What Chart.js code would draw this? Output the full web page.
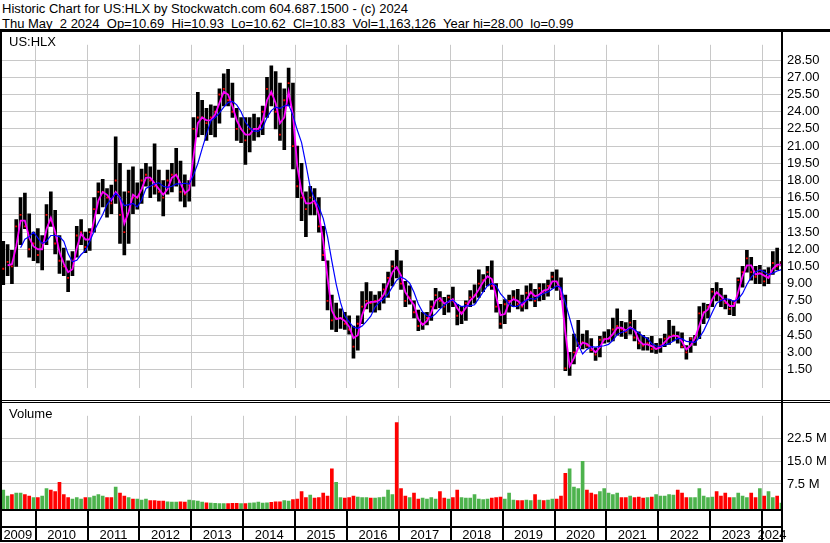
<!DOCTYPE html>
<html>
<head>
<meta charset="utf-8">
<script src="https://cdn.jsdelivr.net/npm/chart.js@4.4.1/dist/chart.umd.min.js"></script>
<style>
  html, body { margin: 0; padding: 0; background: #fff; }
  body { width: 830px; height: 543px; position: relative; overflow: hidden;
         font-family: "Liberation Sans", Arial, sans-serif; }
  .txt { position: absolute; font-size: 13px; line-height: 15px; color: #000; white-space: pre; }
  .ln { position: absolute; background: #000; }
  canvas { position: absolute; left: 0; }
</style>
</head>
<body>
<div class="txt" style="left:2px;top:1px">Historic Chart for US:HLX by Stockwatch.com 604.687.1500 - (c) 2024
Thu May  2 2024  Op=10.69  Hi=10.93  Lo=10.62  Cl=10.83  Vol=1,163,126  Year hi=28.00  lo=0.99</div>

<canvas id="price" width="830" height="369" style="top:32px"></canvas>
<canvas id="volume" width="830" height="140" style="top:403px"></canvas>

<div class="txt" style="left:9px;top:34px">US:HLX</div>
<div class="txt" style="left:9px;top:406px">Volume</div>

<!-- frame lines -->
<div class="ln" style="left:0;top:29px;width:830px;height:3px"></div>
<div class="ln" style="left:0;top:29px;width:2px;height:513px"></div>
<div class="ln" style="left:781px;top:29px;width:2px;height:513px"></div>
<div class="ln" style="left:0;top:400px;width:830px;height:1px"></div>
<div class="ln" style="left:0;top:402px;width:830px;height:1px"></div>
<div class="ln" style="left:0;top:509px;width:783px;height:2px"></div>
<div class="ln" style="left:0;top:526px;width:783px;height:2px"></div>
<div class="ln" style="left:0;top:540px;width:783px;height:2px"></div>

<script>
// monthly bars, first one is May 2009, last one is May 2024 (to May 2)
const startYear = 2009;
const startMonth = 5;

const highs = [
  12.7, 12.4, 11.9, 14.6, 16.5, 16.9, 15.1, 13.5,
  13.8, 13.2, 15.9, 17.0, 15.4, 13.2, 12.1, 11.0, 11.8, 14.0, 14.6, 13.5,
  13.8, 16.5, 17.8, 18.1, 17.3, 17.6, 21.8, 19.5, 17.0, 18.9, 19.2, 17.8,
  19.0, 19.5, 19.2, 21.2, 18.9, 18.0, 18.9, 19.5, 20.8, 19.7, 18.5, 18.0,
  23.5, 25.7, 25.0, 24.3, 24.6, 24.5, 26.0, 27.3, 27.7, 26.5, 24.3, 23.5,
  23.5, 23.5, 23.8, 23.5, 24.5, 27.0, 28.0, 27.5, 26.5, 26.0, 27.8, 26.5,
  21.0, 19.5, 17.0, 17.5, 17.3, 16.5, 14.0, 11.0, 8.0, 7.3, 6.8, 6.5,
  6.2, 5.3, 6.2, 8.3, 9.1, 8.3, 8.0, 8.3, 9.0, 10.0, 11.0, 11.9,
  11.0, 9.2, 8.8, 7.5, 6.7, 6.5, 6.5, 7.5, 8.6, 8.3, 7.8, 8.0,
  8.7, 7.2, 7.0, 7.5, 8.4, 8.9, 10.2, 9.8, 10.5, 11.0, 9.0, 7.2,
  7.6, 8.0, 8.4, 8.5, 8.0, 8.8, 9.0, 8.5, 9.0, 9.0, 9.3, 10.0,
  10.2, 9.5, 8.0, 3.0, 4.6, 5.8, 4.6, 4.9, 4.2, 3.4, 4.4, 4.8,
  5.0, 6.0, 6.8, 5.7, 5.6, 6.7, 5.8, 4.8, 4.5, 4.3, 4.4, 3.8,
  4.2, 4.6, 5.8, 5.3, 4.8, 4.7, 3.6, 4.3, 4.5, 7.0, 7.3, 7.2,
  8.6, 9.1, 8.6, 8.0, 7.6, 7.5, 9.5, 10.5, 11.9, 11.3, 10.5, 10.6,
  10.2, 10.4, 11.8, 12.1, 10.93
];

const lows = [
  8.9, 9.7, 9.0, 10.5, 12.4, 13.8, 11.3, 11.0,
  10.8, 10.2, 12.4, 14.0, 11.6, 9.9, 9.7, 8.3, 9.7, 11.3, 12.4, 11.7,
  11.9, 13.5, 15.1, 15.7, 14.8, 15.1, 16.0, 12.5, 11.5, 12.5, 15.1, 15.5,
  16.0, 17.5, 16.5, 16.8, 16.2, 14.9, 16.8, 17.0, 17.5, 16.2, 15.7, 16.2,
  17.5, 21.8, 22.0, 21.5, 22.0, 21.8, 23.0, 24.5, 24.5, 23.5, 21.5, 21.3,
  19.4, 20.5, 21.5, 21.8, 22.0, 23.5, 24.5, 22.5, 21.5, 20.7, 24.5, 19.0,
  16.5, 14.5, 13.1, 15.0, 15.0, 13.5, 11.0, 6.7, 5.0, 4.8, 5.1, 5.0,
  4.6, 2.5, 3.2, 5.5, 6.8, 6.5, 6.5, 6.7, 7.3, 7.8, 8.8, 9.5,
  8.5, 7.0, 7.2, 6.0, 4.9, 5.0, 5.4, 5.8, 6.8, 6.9, 6.3, 6.5,
  7.0, 5.4, 5.5, 5.8, 7.0, 7.3, 7.8, 8.3, 8.8, 8.5, 6.5, 5.1,
  5.5, 6.5, 7.0, 6.8, 6.6, 6.8, 7.5, 7.0, 7.5, 7.6, 7.9, 8.6,
  8.4, 7.6, 1.4, 0.99, 2.0, 3.5, 3.3, 3.4, 3.0, 2.3, 2.6, 3.8,
  3.9, 4.0, 4.5, 4.4, 4.2, 4.6, 4.0, 3.3, 3.2, 3.2, 3.0, 2.9,
  3.0, 3.5, 3.7, 4.0, 3.8, 3.4, 2.4, 3.0, 3.6, 4.2, 5.5, 6.0,
  7.0, 7.5, 7.0, 6.8, 6.3, 6.2, 7.3, 8.7, 10.0, 9.3, 9.0, 9.0,
  8.8, 9.0, 9.8, 10.2, 10.62
];

const closes = [
  10.3, 10.9, 10.5, 14.0, 15.0, 14.0, 12.0, 12.5,
  11.5, 12.5, 15.0, 14.5, 12.5, 11.0, 10.5, 9.5, 11.0, 13.2, 13.5, 12.2,
  13.5, 15.5, 17.0, 17.0, 16.5, 16.0, 18.0, 15.0, 13.5, 17.0, 16.5, 16.5,
  18.0, 18.5, 18.0, 17.5, 17.0, 16.5, 18.0, 18.5, 18.5, 17.0, 16.8, 17.6,
  22.5, 23.5, 23.5, 23.0, 23.5, 24.0, 25.5, 26.0, 25.0, 24.0, 22.5, 22.5,
  21.5, 22.5, 22.5, 22.5, 24.0, 26.0, 25.5, 24.0, 22.0, 25.0, 26.5, 21.0,
  17.5, 16.5, 15.5, 16.5, 16.0, 14.0, 11.5, 7.5, 5.8, 6.0, 6.0, 5.5,
  5.0, 3.5, 5.5, 7.0, 7.5, 7.3, 7.5, 7.6, 8.5, 9.5, 10.5, 10.4,
  9.0, 7.5, 7.8, 6.5, 5.3, 5.5, 6.0, 7.0, 8.0, 7.5, 7.0, 7.8,
  7.5, 6.2, 6.5, 7.3, 7.8, 8.0, 9.0, 9.3, 10.0, 8.8, 7.0, 5.5,
  7.2, 7.5, 7.8, 7.2, 7.0, 8.2, 8.3, 7.5, 8.6, 8.2, 8.8, 9.6,
  8.8, 7.9, 1.6, 2.0, 3.0, 3.8, 3.9, 3.6, 3.2, 2.8, 4.1, 4.2,
  4.2, 5.0, 5.3, 5.0, 4.8, 5.6, 4.3, 3.8, 3.6, 3.8, 3.3, 3.3,
  3.6, 4.2, 4.4, 4.5, 4.4, 3.5, 3.0, 4.2, 4.3, 6.4, 6.5, 7.0,
  8.3, 8.2, 7.6, 7.3, 6.8, 7.3, 9.3, 10.0, 11.2, 10.0, 9.6, 10.2,
  9.2, 9.8, 10.8, 10.5, 10.83
];

// average weekly volume in each month, millions of shares
const volumes = [
  5.5, 3.5, 4.0, 4.5, 4.5, 4.0, 3.5, 3.0,
  3.0, 3.5, 6.0, 5.5, 5.0, 8.0, 4.0, 3.0, 2.5, 3.0, 2.5, 3.0,
  3.0, 3.5, 4.0, 3.5, 3.0, 3.0, 6.5, 4.5, 3.5, 3.0, 2.5, 2.5,
  2.2, 2.5, 2.0, 2.0, 1.8, 1.8, 1.6, 1.5, 1.5, 1.6, 1.5, 2.2,
  2.0, 1.8, 1.5, 1.3, 1.2, 1.1, 1.0, 1.0, 1.0, 1.1, 1.1, 1.0,
  1.0, 1.2, 1.3, 1.5, 1.2, 1.3, 1.4, 1.6, 1.6, 2.0, 1.8, 2.3,
  2.5, 5.0, 3.0, 3.8, 2.8, 3.0, 4.5, 3.5, 12.5, 8.0, 3.0, 2.8,
  3.0, 3.5, 3.2, 3.0, 3.0, 2.8, 2.8, 3.0, 3.2, 5.5, 4.0, 27.8,
  6.0, 3.5, 3.0, 4.5, 2.5, 2.8, 2.5, 3.0, 2.5, 5.0, 2.8, 2.5,
  3.0, 5.5, 3.0, 2.8, 2.8, 4.0, 2.5, 2.3, 2.5, 2.8, 3.0, 3.2,
  2.5, 4.5, 2.2, 2.0, 2.0, 2.2, 2.0, 4.0, 2.2, 2.0, 2.2, 2.5,
  2.5, 3.5, 11.0, 12.5, 6.5, 6.0, 15.0, 5.5, 4.5, 4.0, 5.0, 6.0,
  4.5, 4.0, 4.5, 3.0, 3.0, 3.5, 3.0, 3.2, 2.8, 3.0, 3.2, 4.0,
  3.5, 3.5, 4.0, 3.8, 5.5, 4.5, 3.0, 3.0, 3.0, 6.0, 3.5, 3.0,
  3.2, 5.0, 3.5, 4.5, 3.0, 3.0, 4.5, 3.5, 3.0, 4.5, 3.0, 6.0,
  3.5, 5.0, 3.0, 3.5, 1.2
];

const priceTicks = [1.5, 3, 4.5, 6, 7.5, 9, 10.5, 12, 13.5, 15, 16.5, 18, 19.5,
                    21, 22.5, 24, 25.5, 27, 28.5];
const volumeTicks = [7.5, 15, 22.5];
const yearBreaks = [2010, 2011, 2012, 2013, 2014, 2015, 2016, 2017, 2018, 2019,
                    2020, 2021, 2022, 2023, 2024];
const yearLabels = ['2009', '2010', '2011', '2012', '2013', '2014', '2015', '2016',
                    '2017', '2018', '2019', '2020', '2021', '2022', '2023', '2024'];

// moving averages of the monthly closes
function sma(values, n) {
  return values.map((v, i) => {
    if (i < n - 1) return null;
    let s = 0;
    for (let k = i - n + 1; k <= i; k++) s += values[k];
    return s / n;
  });
}

document.addEventListener("DOMContentLoaded", function () {
  const FONT = '"Liberation Sans", Arial, sans-serif';
  const GRID = "#c8c8c8";
  const X_MIN = 2009.312;
  const X_MAX = 2024.385;

  // month centre as fractional year
  const monthX = highs.map((_, i) => startYear + (startMonth - 1 + i + 0.5) / 12);
  const maFast = sma(closes, 2);
  const maSlow = sma(closes, 5);
  const upColor = "#4db34d";
  const downColor = "#ff0000";
  const volColors = closes.map((c, i) => (i === 0 || c >= closes[i - 1] ? upColor : downColor));

  const xy = (arr) => arr.map((v, i) => ({ x: monthX[i], y: v }));

  function yearAxis(bottomHeight) {
    return {
      type: "linear",
      min: X_MIN,
      max: X_MAX,
      offset: false,
      afterBuildTicks: (s) => { s.ticks = yearBreaks.map((v) => ({ value: v })); },
      afterFit: (s) => { s.height = bottomHeight; },
      ticks: { display: false },
      grid: { color: GRID, lineWidth: 1, drawTicks: false, offset: false },
      border: { display: false },
    };
  }

  const baseOptions = {
    responsive: false,
    animation: false,
    events: [],
    layout: { padding: 0, autoPadding: false },
    plugins: { legend: { display: false }, tooltip: { enabled: false } },
  };

  // price panel
  new Chart(document.getElementById("price"), {
    type: "bar",
    data: {
      datasets: [
        {
          type: "line",
          data: xy(maSlow),
          borderColor: "#0000ff",
          borderWidth: 1.2,
          pointRadius: 0,
          order: 0,
        },
        {
          type: "line",
          data: xy(maFast),
          borderColor: "#ff00ff",
          borderWidth: 1.8,
          pointRadius: 0,
          order: 1,
        },
        {
          type: "line",
          data: xy(closes),
          showLine: false,
          pointStyle: "rect",
          pointRadius: 1.3,
          pointBackgroundColor: downColor,
          pointBorderWidth: 0,
          order: 2,
        },
        {
          type: "bar",
          data: highs.map((h, i) => ({ x: monthX[i], y: [lows[i], h] })),
          backgroundColor: "#000",
          barThickness: 3,
          grouped: false,
          order: 3,
        },
      ],
    },
    options: Object.assign({}, baseOptions, {
      scales: {
        x: yearAxis(0),
        y: {
          position: "right",
          min: -0.124,
          max: 29.84,
          afterBuildTicks: (s) => { s.ticks = priceTicks.map((v) => ({ value: v })); },
          afterFit: (s) => { s.width = 48; },
          ticks: {
            padding: 5,
            color: "#000",
            font: { family: FONT, size: 13 },
            callback: (v) => Number(v).toFixed(2),
          },
          grid: { color: GRID, lineWidth: 1, drawTicks: false },
          border: { display: false },
        },
      },
    }),
  });

  // bottom rows under the volume panel: year separators and year names
  const yearRowPlugin = {
    id: "yearRow",
    afterDraw(chart) {
      const { ctx, chartArea } = chart;
      const x = chart.scales.x;
      ctx.save();
      ctx.fillStyle = "#000";
      yearBreaks.forEach((v) => {
        const px = Math.round(x.getPixelForValue(v));
        ctx.fillRect(px - 1, chartArea.bottom, 2, 32);
      });
      ctx.font = "13px " + FONT;
      ctx.textAlign = "center";
      ctx.textBaseline = "alphabetic";
      yearLabels.forEach((lab) => {
        const y0 = Number(lab);
        const a = Math.max(x.getPixelForValue(y0), chartArea.left);
        const b = Math.min(x.getPixelForValue(y0 + 1), chartArea.right);
        ctx.fillText(lab, (a + b) / 2, chartArea.bottom + 30);
      });
      ctx.restore();
    },
  };

  // volume panel
  new Chart(document.getElementById("volume"), {
    type: "bar",
    data: {
      datasets: [
        {
          data: volumes.map((v, i) => ({ x: monthX[i], y: v })),
          backgroundColor: volColors,
          barThickness: 3,
          base: -0.78,
        },
      ],
    },
    options: Object.assign({}, baseOptions, {
      scales: {
        x: yearAxis(34),
        y: {
          position: "right",
          min: -0.78,
          max: 30.03,
          afterBuildTicks: (s) => { s.ticks = volumeTicks.map((v) => ({ value: v })); },
          afterFit: (s) => { s.width = 48; },
          ticks: {
            padding: 5,
            color: "#000",
            font: { family: FONT, size: 13 },
            callback: (v) => Number(v).toFixed(1) + " M",
          },
          grid: { color: GRID, lineWidth: 1, drawTicks: false },
          border: { display: false },
        },
      },
    }),
    plugins: [yearRowPlugin],
  });
});
</script>
</body>
</html>
